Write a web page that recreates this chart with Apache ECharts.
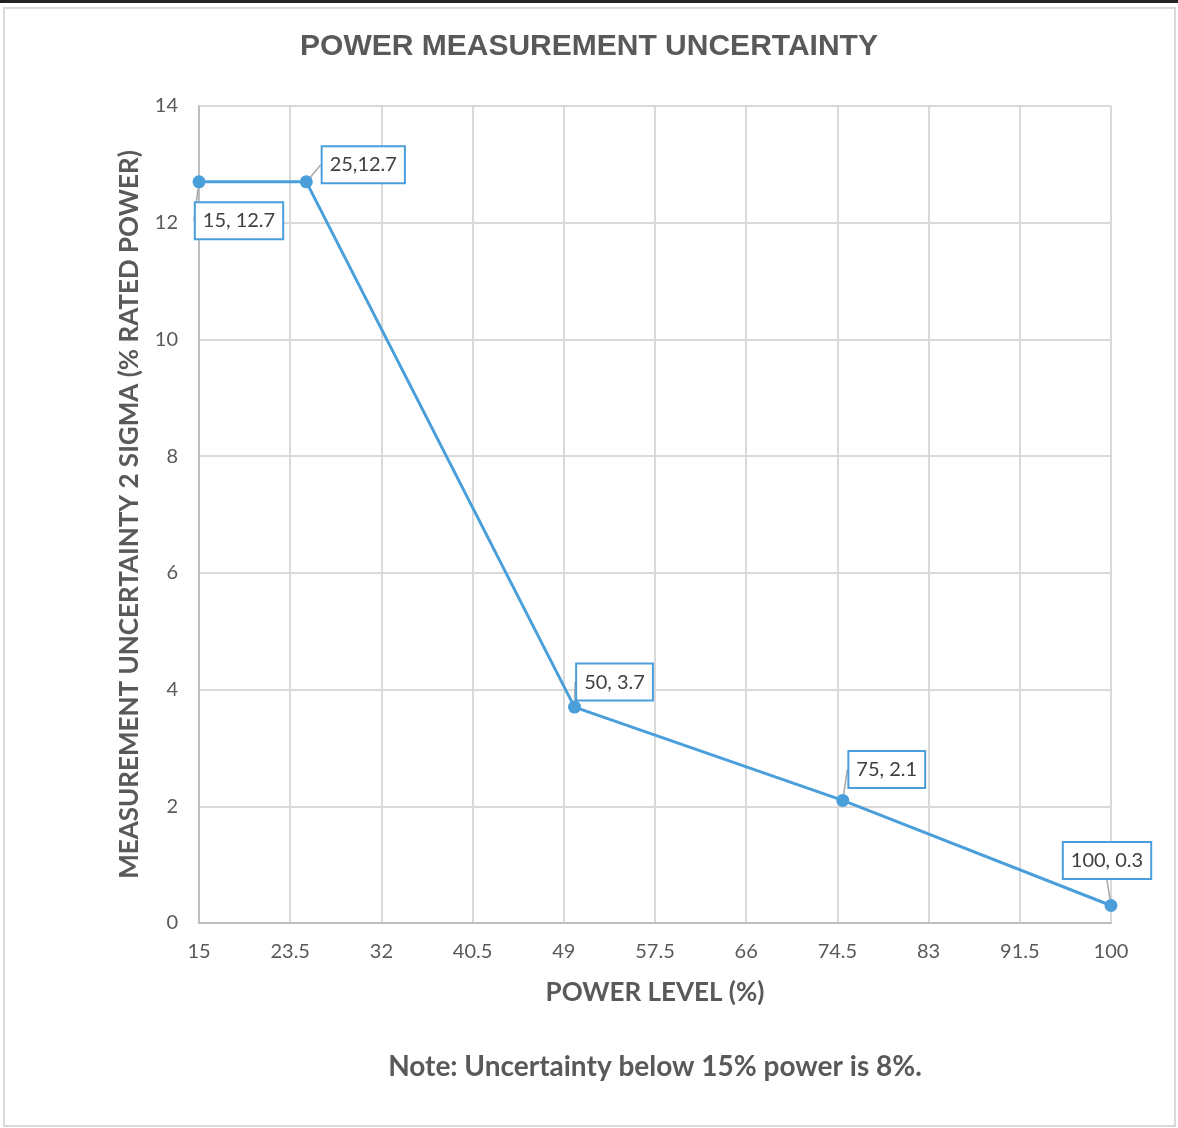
<!DOCTYPE html>
<html>
<head>
<meta charset="utf-8">
<title>Power Measurement Uncertainty</title>
<script src="https://cdn.jsdelivr.net/npm/echarts@6/dist/echarts.min.js"></script>
<style>
  html, body { margin: 0; padding: 0; background: #ffffff; }
  #chart { width: 1178px; height: 1128px; }
</style>
</head>
<body>
<div id="chart"></div>
<script>
// Power level (% rated) and 2-sigma uncertainty (% rated power)
const powerLevel = [15, 25, 50, 75, 100];
const uncertainty = [12.7, 12.7, 3.7, 2.1, 0.3];
const pointLabels = ['15, 12.7', '25,12.7', '50, 3.7', '75, 2.1', '100, 0.3'];

// Axis scale settings
const xMin = 15, xMax = 100, xStep = 8.5;
const yMin = 0, yMax = 14, yStep = 2;

// Callout placement relative to each point (pixels)
const calloutShift = [[40, 39], [57, -17], [40, -25], [44, -31], [-4, -45]];

const textGrey = '#595959';
const lineBlue = '#4a9fdb';
const bodyFont = "Lato, 'Open Sans', sans-serif";

const chart = echarts.init(document.getElementById('chart'), null, { renderer: 'canvas' });

chart.setOption({
  backgroundColor: '#ffffff',
  animation: false,
  title: [
    {
      text: 'POWER MEASUREMENT UNCERTAINTY',
      left: 'center',
      top: 27,
      textStyle: {
        fontFamily: "'Liberation Sans Narrow', 'Liberation Sans', Arial, sans-serif",
        fontSize: 30, fontWeight: 'bold', color: textGrey
      }
    },
    {
      text: 'Note: Uncertainty below 15% power is 8%.',
      left: 650, textAlign: 'center',
      top: 1048,
      textStyle: { fontFamily: bodyFont, fontSize: 28, fontWeight: 'bold', color: textGrey }
    }
  ],
  graphic: [
    { type: 'rect', shape: { x: 0, y: 0, width: 1178, height: 3 }, style: { fill: '#222222' }, silent: true },
    { type: 'rect', shape: { x: 4, y: 8, width: 1171, height: 1118 },
      style: { fill: 'none', stroke: '#d9d9d9', lineWidth: 2 }, silent: true }
  ],
  grid: { left: 199, right: 67, top: 106, bottom: 205, containLabel: false },
  xAxis: {
    type: 'value',
    min: xMin, max: xMax, interval: xStep,
    name: 'POWER LEVEL (%)',
    nameLocation: 'middle',
    nameGap: 57,
    nameTextStyle: { fontFamily: bodyFont, fontSize: 26, fontWeight: 'bold', color: textGrey },
    axisLine: { show: true, lineStyle: { color: '#bfbfbf', width: 2 } },
    axisTick: { show: false },
    axisLabel: { margin: 19, fontFamily: bodyFont, fontSize: 20, color: textGrey },
    splitLine: { show: true, lineStyle: { color: '#d9d9d9', width: 2 } }
  },
  yAxis: {
    type: 'value',
    min: yMin, max: yMax, interval: yStep,
    name: 'MEASUREMENT UNCERTAINTY 2 SIGMA (% RATED POWER)',
    nameLocation: 'middle',
    nameGap: 56,
    nameTextStyle: { fontFamily: bodyFont, fontSize: 26, fontWeight: 'bold', color: textGrey },
    axisLine: { show: true, lineStyle: { color: '#bfbfbf', width: 2 } },
    axisTick: { show: false },
    axisLabel: { margin: 21, fontFamily: bodyFont, fontSize: 20, color: textGrey },
    splitLine: { show: true, lineStyle: { color: '#d9d9d9', width: 2 } }
  },
  series: [{
    type: 'line',
    data: powerLevel.map((x, i) => [x, uncertainty[i]]),
    symbol: 'circle',
    symbolSize: 13,
    lineStyle: { color: lineBlue, width: 3 },
    itemStyle: { color: lineBlue },
    label: {
      show: true,
      position: 'inside',
      formatter: p => pointLabels[p.dataIndex],
      fontFamily: bodyFont, fontSize: 20, color: '#404040',
      backgroundColor: '#ffffff',
      borderColor: lineBlue, borderWidth: 2,
      padding: [8, 7, 7, 7]
    },
    labelLine: { show: true, lineStyle: { color: '#a6a6a6', width: 1.5 } },
    labelLayout: p => ({ dx: calloutShift[p.dataIndex][0], dy: calloutShift[p.dataIndex][1] }),
    z: 3
  }]
});
</script>
</body>
</html>
